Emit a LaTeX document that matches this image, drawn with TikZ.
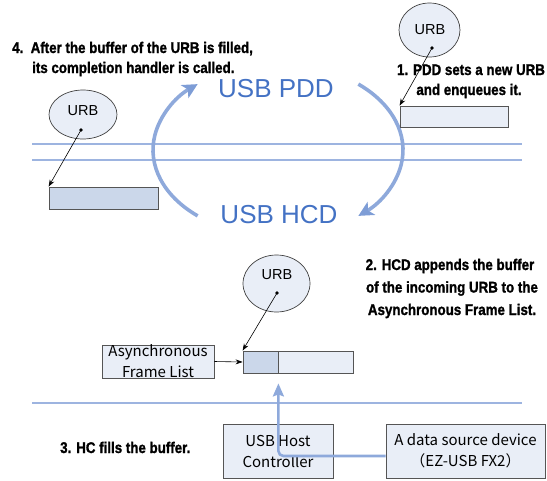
\documentclass[tikz,border=0pt]{standalone}
\usepackage{fontspec}
\setmainfont{Liberation Sans}
\newfontfamily\stepfont[FakeStretch=0.86,FakeBold=1.3]{Liberation Sans}
\newfontfamily\jpfont{Noto Sans CJK JP}
\usetikzlibrary{shapes.geometric,arrows.meta}
\definecolor{bluetext}{HTML}{4472C4}
\definecolor{arcblue}{HTML}{8EA9DB}
\definecolor{headblue}{HTML}{7E9DD6}
\definecolor{lineblue}{HTML}{9DB4E0}
\definecolor{boxfill}{HTML}{E9EEF7}
\definecolor{hatchfill}{HTML}{CBD7EA}
\definecolor{boxdraw}{HTML}{555555}
\tikzset{
  hline/.style={draw=lineblue, line width=1.8pt},
  urb/.style={ellipse, draw=black!75, fill=boxfill, line width=0.7pt, inner sep=0pt},
  urbtext/.style={font=\fontsize{14.5}{16}\selectfont, inner sep=0pt},
  bufbox/.style={rectangle, draw=boxdraw, fill=boxfill, line width=0.8pt, inner sep=0pt},
  hatchbox/.style={rectangle, draw=boxdraw, fill=hatchfill, line width=0.8pt, inner sep=0pt},
  textbox/.style={rectangle, draw=boxdraw, fill=boxfill, line width=0.8pt, inner sep=0pt, align=center, font=\jpfont\fontsize{15}{21}\selectfont},
  steptext/.style={font=\stepfont\bfseries\fontsize{15.5}{20}\selectfont, inner sep=0pt},
  bigblue/.style={font=\fontsize{26}{30}\selectfont, text=bluetext, inner sep=0pt},
  dotmark/.style={circle, fill=black, inner sep=0pt, minimum size=3.6pt},
  thinarrow/.style={draw=black, line width=0.6pt, -{Stealth[length=7pt,width=5pt]}},
  arcarrow/.style={draw=arcblue, line width=3.6pt, -{Stealth[length=15pt,width=15pt,inset=4pt,color=headblue]}},
  uparrow/.style={draw=arcblue, line width=2.6pt, rounded corners=5pt, -{Stealth[length=13pt,width=11pt,inset=2pt]}}
}
\begin{document}
\begin{tikzpicture}[x=1pt,y=-1pt]
\useasboundingbox (0,0) rectangle (547,480);
% horizontal separator lines
\draw[hline] (32,144) -- (522,144);
\draw[hline] (32,160) -- (522,160);
\draw[hline] (32,403) -- (522,403);
% cycle arcs
\draw[arcarrow] (278,150) ++(130:125 and 86) arc[start angle=130, end angle=230, x radius=125, y radius=86];
\draw[arcarrow] (278,150) ++(-50:125 and 86) arc[start angle=-50, end angle=50, x radius=125, y radius=86];
\node[bigblue, anchor=base] (pdd) at (276,97) {USB PDD};
\node[bigblue, anchor=base] (hcd) at (279,223) {USB HCD};
% step texts
\node[steptext, anchor=base west] (t4a) at (12,53) {4.\ \ After the buffer of the URB is filled,};
\node[steptext, anchor=base west] (t4b) at (32,73) {its completion handler is called.};
\node[steptext, anchor=base] (t1a) at (471,75) {1. PDD sets a new URB};
\node[steptext, anchor=base] (t1b) at (469,95) {and enqueues it.};
\node[steptext, anchor=base] (t2a) at (450,270) {2. HCD appends the buffer};
\node[steptext, anchor=base] (t2b) at (452,292.5) {of the incoming URB to the};
\node[steptext, anchor=base] (t2c) at (452,315) {Asynchronous Frame List.};
\node[steptext, anchor=base west] (t3) at (60,453) {3. HC fills the buffer.};
% URB A (top right)
\node[urb, minimum width=61pt, minimum height=54pt] (urbA) at (429.5,30) {};
\node[urbtext] (urbAt) at (430,30) {URB};
\node[dotmark] (dotA) at (432,48) {};
\node[bufbox, minimum width=108pt, minimum height=21pt] (bufA) at (454,116.5) {};
\draw[thinarrow] (dotA.center) -- (bufA.north west);
% URB B (left)
\node[urb, minimum width=68pt, minimum height=49pt] (urbB) at (83,114.5) {};
\node[urbtext] (urbBt) at (83,111) {URB};
\node[dotmark] (dotB) at (81,130) {};
\node[hatchbox, minimum width=109pt, minimum height=22pt] (bufB) at (103.5,198) {};
\draw[thinarrow] (dotB.center) -- (bufB.north west);
% URB C (middle)
\node[urb, minimum width=67pt, minimum height=57pt] (urbC) at (276.5,283.5) {};
\node[urbtext] (urbCt) at (277,275) {URB};
\node[dotmark] (dotC) at (277,293) {};
\node[hatchbox, minimum width=35pt, minimum height=22pt] (bufC1) at (260.5,362) {};
\node[bufbox, minimum width=75pt, minimum height=22pt] (bufC2) at (315.5,362) {};
\draw[thinarrow] (dotC.center) -- (bufC1.north west);
\node[textbox, minimum width=112pt, minimum height=31pt] (afl) at (158,361.5) {Asynchronous\\Frame List};
\draw[thinarrow] (afl.east) -- (bufC1.west);
% bottom boxes
\node[textbox, minimum width=110pt, minimum height=54pt] (host) at (278,451) {USB Host\\Controller};
\node[textbox, minimum width=159pt, minimum height=54pt] (data) at (465.5,451) {A data source device\\（EZ-USB FX2）};
\draw[uparrow] ([yshift=-5pt]data.west) -| ([yshift=-10pt]bufC1.south east);
\end{tikzpicture}
\end{document}
